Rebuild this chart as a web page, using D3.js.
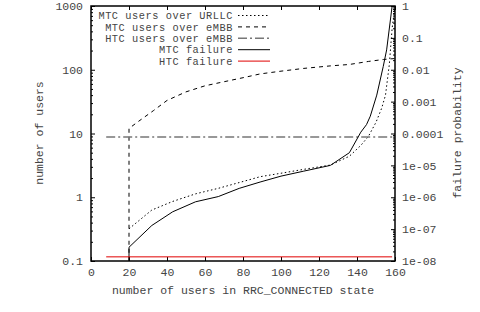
<!DOCTYPE html>
<html>
<head>
<meta charset="utf-8">
<style>
  body {margin: 0; background: #fff;}
  svg text {font-family: "Courier New", Courier, "Nimbus Mono PS", FreeMono, "Liberation Mono", monospace; font-size: 11.5px; fill: #444;}
  svg .leg text {font-size: 10.3px; letter-spacing: 0.55px;}
</style>
<script src="https://d3js.org/d3.v7.min.js"></script>
</head>
<body>
<svg id="plot" width="480" height="312"></svg>
<script>
// x positions (number of users in RRC_CONNECTED state)
var mtcX = [20, 32, 43, 55, 67, 78, 89, 100, 112, 126, 136, 142, 146, 150, 153, 155, 157, 158.5, 160];
// MTC users over URLLC (left axis)
var mtcUrllc = [0.32, 0.63, 0.86, 1.13, 1.38, 1.7, 2.1, 2.38, 2.74, 3.2, 4.4, 6.5, 9, 15, 25, 40, 120, 450, 1000];

var embbX = [20, 20, 25, 33, 40, 50, 60, 68, 80, 89, 100, 112, 126, 136, 146, 154, 160];
// MTC users over eMBB (left axis)
var mtcEmbb = [0.01, 12, 15.5, 23, 33, 45, 56, 63, 75, 86, 95, 105, 115, 121, 135, 145, 150];

// HTC users over eMBB (left axis)
var htcX = [8, 158.5];
var htcEmbb = [8.8, 8.8];

var failX = [20, 20, 32, 43, 55, 67, 78, 89, 100, 112, 126, 136, 142, 145, 147, 150.4, 153.8, 155.6, 158.5];
// MTC failure (right axis)
var mtcFail = [1e-9, 2.7e-8, 1.3e-7, 3.5e-7, 7.2e-7, 1.05e-6, 1.9e-6, 3.0e-6, 4.6e-6, 6.6e-6, 1.0e-5, 2.5e-5, 1.1e-4, 1.9e-4, 3.5e-4, 1.6e-3, 0.0126, 0.042, 1];
// HTC failure (right axis)
var htcFailX = [8, 158.5];
var htcFail = [1.35e-8, 1.35e-8];

var xTicks = [0, 20, 40, 60, 80, 100, 120, 140, 160];
var leftTicks = [0.1, 1, 10, 100, 1000];
var rightTicks = [1e-8, 1e-7, 1e-6, 1e-5, 1e-4, 1e-3, 0.01, 0.1, 1];
var rightLabels = ["1e-08", "1e-07", "1e-06", "1e-05", "0.0001", "0.001", "0.01", "0.1", "1"];

var svg = d3.select("#plot");
var L = 91, R = 395, T = 6, B = 261;

var x = d3.scaleLinear().domain([0, 160]).range([L, R]);
var yL = d3.scaleLog().domain([0.1, 1000]).range([B, T]);
var yR = d3.scaleLog().domain([1e-8, 1]).range([B, T]);

svg.append("clipPath").attr("id", "clip")
  .append("rect").attr("x", L).attr("y", T).attr("width", R - L).attr("height", B - T);

function minors(lo, hi) {
  var out = [];
  for (var e = lo; e < hi; e++) {
    for (var k = 2; k < 10; k++) out.push(k * Math.pow(10, e));
  }
  return out;
}

function clean(g) {
  g.select(".domain").remove();
  g.selectAll("line").attr("stroke", "#000");
}

// left axis
svg.append("g").attr("transform", "translate(" + L + ",0)")
  .call(d3.axisLeft(yL).tickValues(leftTicks).tickSize(-4).tickPadding(8)
    .tickFormat(function(d) { return d < 1 ? "0.1" : d3.format("d")(d); }))
  .call(clean)
  .selectAll("text").attr("fill", "#444");
svg.append("g").attr("transform", "translate(" + L + ",0)")
  .call(d3.axisLeft(yL).tickValues(minors(-1, 3)).tickSize(-2).tickFormat(""))
  .call(clean);

// right axis
svg.append("g").attr("transform", "translate(" + R + ",0)")
  .call(d3.axisRight(yR).tickValues(rightTicks).tickSize(-4).tickPadding(7)
    .tickFormat(function(d, i) { return rightLabels[i]; }))
  .call(clean)
  .selectAll("text").attr("fill", "#444");
svg.append("g").attr("transform", "translate(" + R + ",0)")
  .call(d3.axisRight(yR).tickValues(minors(-8, 0)).tickSize(-2).tickFormat(""))
  .call(clean);

// bottom + top axes
svg.append("g").attr("transform", "translate(0," + B + ")")
  .call(d3.axisBottom(x).tickValues(xTicks).tickSize(-4).tickPadding(7))
  .call(clean)
  .selectAll("text").attr("fill", "#444");
svg.append("g").attr("transform", "translate(0," + T + ")")
  .call(d3.axisTop(x).tickValues(xTicks).tickSize(-4).tickFormat(""))
  .call(clean);

// frame
svg.append("rect").attr("x", L).attr("y", T).attr("width", R - L).attr("height", B - T)
  .attr("fill", "none").attr("stroke", "#000").attr("stroke-width", 1.5);

// axis titles
svg.append("text").attr("x", 243).attr("y", 294).attr("text-anchor", "middle")
  .text("number of users in RRC_CONNECTED state");
svg.append("text").attr("transform", "translate(43,133) rotate(-90)").attr("text-anchor", "middle")
  .text("number of users");
svg.append("text").attr("transform", "translate(461,133) rotate(-90)").attr("text-anchor", "middle")
  .text("failure probability");

var plot = svg.append("g").attr("clip-path", "url(#clip)");

function addLine(xs, ys, yScale, color, width, dash) {
  var line = d3.line().x(function(d) { return x(d[0]); }).y(function(d) { return yScale(d[1]); });
  plot.append("path").datum(d3.zip(xs, ys))
    .attr("d", line).attr("fill", "none")
    .attr("stroke", color).attr("stroke-width", width)
    .attr("stroke-dasharray", dash);
}

addLine(mtcX, mtcUrllc, yL, "#000", 1, "1.5,2.5");
addLine(embbX, mtcEmbb, yL, "#000", 1, "4,4");
addLine(htcX, htcEmbb, yL, "#777", 1.6, "9,3,2,3");
addLine(failX, mtcFail, yR, "#000", 1, null);
addLine(htcFailX, htcFail, yR, "#e00000", 1, null);

// legend
var legNames = ["MTC users over URLLC", "MTC users over eMBB", "HTC users over eMBB", "MTC failure", "HTC failure"];
var legColors = ["#000", "#000", "#777", "#000", "#e00000"];
var legWidths = [1, 1, 1.6, 1, 1];
var legDash = ["1.5,2.5", "4,4", "9,3,2,3", null, null];
var leg = svg.append("g").attr("class", "leg");
legNames.forEach(function(name, i) {
  var yy = 15.5 + i * 11.4;
  leg.append("text").attr("x", 233).attr("y", yy).attr("dy", "0.35em")
    .attr("text-anchor", "end").text(name);
  leg.append("line").attr("x1", 238).attr("x2", 270).attr("y1", yy).attr("y2", yy)
    .attr("stroke", legColors[i]).attr("stroke-width", legWidths[i])
    .attr("stroke-dasharray", legDash[i]);
});
</script>
</body>
</html>
